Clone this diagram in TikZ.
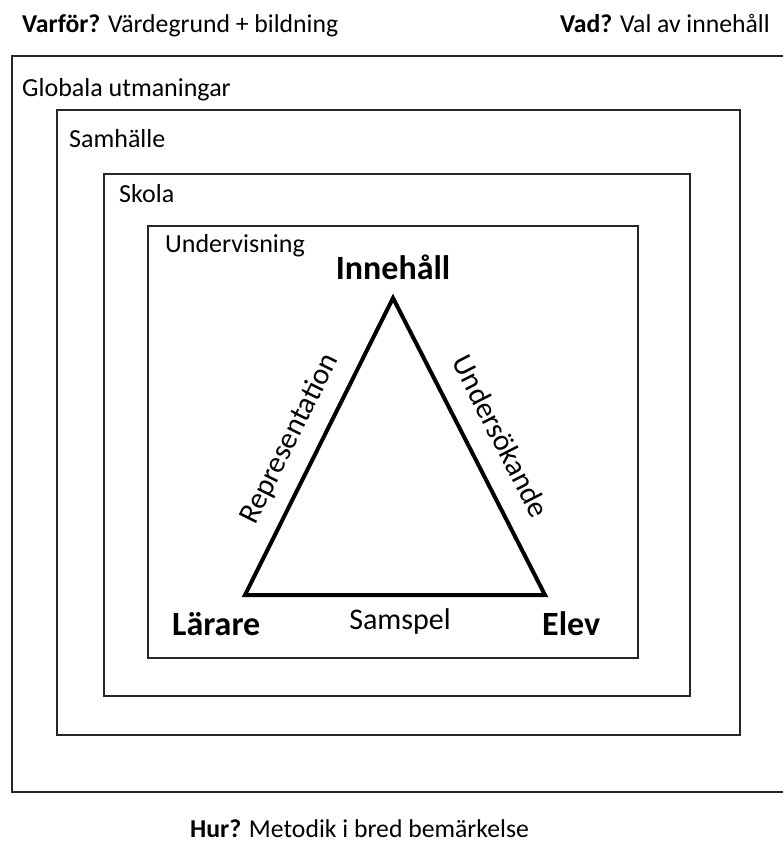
\documentclass[tikz,border=0pt]{standalone}
\usepackage{fontspec}
\setmainfont{Carlito}
\begin{document}
\begin{tikzpicture}[x=1pt,y=-1pt,
  boxline/.style={draw=black!85, line width=2pt},
  toptext/.style={inner sep=0pt, font=\fontsize{25.7}{30}\selectfont},
  boxlabel/.style={inner sep=0pt, anchor=base west, font=\fontsize{26}{30}\selectfont},
  vertexlabel/.style={inner sep=0pt, font=\fontsize{34}{40}\selectfont\bfseries},
  sidelabel/.style={inner sep=0pt, font=\fontsize{30}{35}\selectfont},
  triline/.style={draw=black, line width=4pt, line join=miter}]
\useasboundingbox (0,0) rectangle (783,842);
% texts outside
\node[toptext, anchor=base west] (varfor) at (22,33) {\textbf{Varför?} Värdegrund + bildning};
\node[toptext, anchor=base east] (vad) at (770,33) {\textbf{Vad?} Val av innehåll};
\node[toptext, anchor=base west] (hur) at (190,837) {\textbf{Hur?} Metodik i bred bemärkelse};
% outer box (open to the right edge)
\coordinate (o1) at (790,56);
\coordinate (o2) at (12,56);
\coordinate (o3) at (12,792);
\coordinate (o4) at (790,792);
\draw[boxline] (o1) -- (o2) -- (o3) -- (o4);
\node[boxlabel] (glob) at (22,97) {Globala utmaningar};
% nested boxes
\draw[boxline] (57,110) rectangle (740,735);
\node[boxlabel] (samh) at (69,148) {Samhälle};
\draw[boxline] (104,174) rectangle (690,696);
\node[boxlabel] (skola) at (119,203) {Skola};
\draw[boxline] (148,226) rectangle (638,658);
\node[boxlabel] (underv) at (165,252) {Undervisning};
% triangle
\coordinate (top) at (393,298);
\coordinate (bl) at (245,595);
\coordinate (br) at (545,595);
\draw[triline] (top) -- (br) -- (bl) -- cycle;
\node[vertexlabel, anchor=base] (inn) at (393,279) {Innehåll};
\node[vertexlabel, anchor=base west] (lar) at (172,635) {Lärare};
\node[vertexlabel, anchor=base west] (elev) at (542,635) {Elev};
\node[sidelabel, rotate=63.5] (rep) at (290,439) {Representation};
\node[sidelabel, rotate=-62.9] (unders) at (501,436) {Undersökande};
\node[sidelabel, anchor=base] (samsp) at (400,629) {Samspel};
\end{tikzpicture}
\end{document}
